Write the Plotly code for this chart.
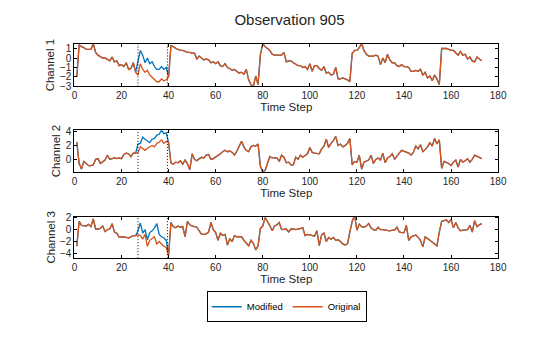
import plotly.graph_objects as go

time_steps = list(range(1, 174))

ch1_original = [
    -2.0, 1.4, 1.2, 1.1, 0.9, 0.9, 0.9, 1.5, 0.6, 0.3,
    0.1, 0.0, 0.0, -0.2, -0.3, 0.1, -0.4, -0.3, -0.8, -0.7,
    -0.9, -0.5, -1.2, -1.1, -0.5, -1.5, -1.8, -0.6, -1.2, -1.5,
    -1.3, -1.8, -2.0, -2.3, -2.5, -2.5, -2.2, -2.4, -2.3, -2.0,
    1.3, 1.2, 1.0, 0.9, 0.8, 0.8, 0.7, 0.6, 0.6, 0.5,
    0.5, -0.1, 0.2, 0.0, -0.2, -0.1, -0.2, -0.5, -0.4, -0.6,
    -0.4, -0.8, -0.9, -0.6, -1.0, -1.1, -1.3, -1.2, -1.4, -1.6,
    -1.5, -1.7, -1.2, -2.3, -2.8, -3.0, -1.9, -2.8, 0.4, 1.5,
    1.2, 1.0, 0.8, 0.4, 0.3, 0.3, 0.3, 0.3, 0.6, -0.4,
    -0.3, -0.3, -0.5, -0.7, -0.8, -0.8, -1.0, -0.9, -1.2, -0.6,
    -1.4, -0.8, -0.8, -1.1, -1.3, -0.9, -1.6, -1.5, -1.8, -1.7,
    -1.0, -2.2, -2.2, -2.1, -2.2, -2.3, -2.5, 0.5, 0.8, 0.8,
    1.1, 1.5, 0.8, 0.4, 0.2, 0.2, 0.2, 0.3, 0.2, -0.7,
    0.0, -0.5, 0.4, -0.2, -0.5, -0.5, -0.8, -0.9, -0.7, -0.9,
    -0.9, -1.0, -1.4, -1.4, -1.3, -1.4, -1.2, -1.8, -1.5, -2.1,
    -1.9, -2.4, -1.8, -2.2, -2.8, 1.0, 1.0, 1.0, 0.9, 0.8,
    0.8, 0.5, 0.3, 0.7, 0.3, 0.4, -0.1, 0.1, -0.3, -0.4,
    0.1, -0.1, -0.3,
]

ch2_original = [
    2.5, -0.6, -1.4, -0.3, -0.6, -0.9, -0.9, -0.8, 0.0, 0.1,
    -0.6, -0.3, -0.1, 0.6, 0.0, 0.1, 0.2, 0.1, 0.2, 0.1,
    0.7, 0.9, 0.8, 0.4, 0.9, 0.9, 1.0, 1.8, 1.6, 1.3,
    1.6, 1.8, 2.0, 1.8, 2.3, 2.5, 2.8, 2.3, 2.6, 2.4,
    -0.5, -0.7, -0.4, -0.5, -0.2, -0.7, -0.1, -0.6, -1.5, 0.8,
    0.0, -0.2, 0.1, 0.3, 0.2, 0.6, 0.7, 0.0, 0.1, 0.3,
    0.5, 0.8, 1.1, 1.3, 1.1, 1.2, 1.0, 0.6, 1.2, 2.0,
    2.6, 1.8, 1.3, 1.1, 1.8, 2.0, 1.9, 2.2, -1.0, -1.8,
    -1.6, -0.6, 0.4, 0.2, 0.2, 0.2, -0.3, 0.6, 0.3, -0.5,
    -0.4, -0.8, -0.8, 0.3, 0.0, 0.6, 0.3, 0.6, 0.8, 1.7,
    1.0, 0.9, 0.9, 0.8, 1.5, 1.9, 2.9, 1.7, 2.3, 2.7,
    3.3, 2.0, 2.2, 1.8, 2.0, 2.3, 3.0, -0.8, -0.3, -0.4,
    0.6, -1.4, -0.4, -0.2, -0.1, 0.6, -0.6, 0.0, 0.2, -0.1,
    0.9, -0.5, 0.2, 0.4, 0.8, 0.0, 0.5, 0.9, 1.3, 1.2,
    1.1, 0.9, 0.6, 1.0, 1.9, 1.5, 2.1, 1.1, 1.4, 1.8,
    2.4, 1.9, 3.0, 2.2, 2.8, -1.3, -0.3, -0.4, -0.6, -0.9,
    -0.4, -0.1, -1.1, 0.0, -0.4, -0.2, 0.1, -0.4, 0.0, 0.6,
    0.4, 0.2, 0.1,
]

ch3_original = [
    -2.8, 1.4, 0.7, 0.6, 0.6, 0.9, 0.5, 1.8, 0.1, 0.1,
    0.2, 0.6, -0.3, 0.0, 0.1, 1.0, -0.4, -0.6, -1.3, -1.2,
    -1.2, -1.3, -1.4, -1.2, -1.0, -1.0, -0.9, -1.0, -1.6, -0.8,
    -2.8, -1.8, -1.5, -1.2, -2.4, -2.0, -2.4, -2.8, -3.0, -4.3,
    1.2, 0.5, 0.3, 0.6, 0.4, 0.5, -1.2, 1.4, 0.8, 0.6,
    0.5, 0.4, -0.2, -0.8, -0.8, -0.7, -0.4, 1.2, 0.0, -0.5,
    -1.8, -0.6, -1.0, -0.8, -2.6, -1.5, -2.0, -1.0, -1.2, -1.2,
    -1.2, -1.8, -2.2, -2.7, -1.8, -2.3, -3.4, -2.7, 0.2, 0.6,
    2.0, 1.4, 0.7, -0.2, 0.6, 0.8, 1.2, 0.0, 0.0, 0.1,
    -0.4, 0.1, 0.1, 0.0, 0.1, 0.2, 0.3, -1.0, -0.8, -0.9,
    -1.0, -1.1, -0.2, -2.7, -0.9, -0.6, -2.0, -1.3, -1.6, -1.3,
    -1.8, -1.7, -2.0, -2.4, -2.6, -2.4, -0.4, 1.4, 2.4, -0.1,
    0.9, 0.5, 0.4, 0.6, 1.0, 0.3, 0.0, -0.1, 0.4, 0.0,
    0.0, -0.1, -0.2, -0.2, -0.1, -0.1, 0.4, -0.4, -0.5, -0.5,
    0.7, -1.8, -1.2, -1.0, -0.9, -1.3, -1.8, -2.9, -1.2, -1.5,
    -1.8, -2.0, -2.3, -2.7, -0.4, 1.4, 1.5, 1.6, 1.2, 1.7,
    0.3, 1.2, 0.3, -0.2, -0.1, -0.1, 0.0, 0.7, -0.4, 1.5,
    0.5, 0.8, 1.0,
]

# modified window (time steps 27..39)
mod_start = 27
ch1_mod_window = [-0.4, 0.8, 0.3, -0.5, 0.0, -0.6, -0.4, -0.9, -1.2, -1.2, -0.9, -1.2, -1.0]
ch2_mod_window = [2.2, 2.3, 3.2, 2.9, 2.7, 2.4, 2.9, 3.0, 3.5, 3.6, 4.2, 3.7, 3.8]
ch3_mod_window = [-0.2, 1.1, -0.6, 0.0, -1.7, -0.5, -0.2, 0.3, 1.0, -0.8, -1.2, -1.4, -1.8]

region_bounds = [27, 39.5]

channel_names = ["Channel 1", "Channel 2", "Channel 3"]
y_ranges = [[-3, 1.5], [-1.8, 4.2], [-4.8, 2.2]]
y_ticks = [[-3, -2, -1, 0, 1], [0, 2, 4], [-4, -2, 0, 2]]
x_ticks = [0, 20, 40, 60, 80, 100, 120, 140, 160, 180]


def modified(orig, window):
    out = list(orig)
    i0 = mod_start - 1
    out[i0:i0 + len(window)] = window
    return out


originals = [ch1_original, ch2_original, ch3_original]
modifieds = [modified(ch1_original, ch1_mod_window),
             modified(ch2_original, ch2_mod_window),
             modified(ch3_original, ch3_mod_window)]

BLUE = "#0072BD"
ORANGE = "#D95319"
FONT = "Liberation Sans, Arial, sans-serif"
TXT = "#262626"

W, H = 560, 337
x_dom = [73 / W, 506 / W]
y_px = [(41, 85), (130, 173), (219, 262)]

fig = go.Figure()
layout_axes = {}
for i in range(3):
    n = "" if i == 0 else str(i + 1)
    xa, ya = "x" + n, "y" + n
    fig.add_trace(go.Scatter(x=time_steps, y=modifieds[i], mode="lines",
                             line=dict(color=BLUE, width=1.3), name="Modified",
                             showlegend=(i == 0), xaxis=xa, yaxis=ya, legendgroup="m"))
    fig.add_trace(go.Scatter(x=time_steps, y=originals[i], mode="lines",
                             line=dict(color=ORANGE, width=1.3), name="Original",
                             showlegend=(i == 0), xaxis=xa, yaxis=ya, legendgroup="o"))
    top, bot = y_px[i]
    common = dict(showline=True, linecolor="#000000", linewidth=1, mirror="ticks",
                  ticks="inside", ticklen=3, tickwidth=1, tickcolor="#000000",
                  showgrid=False, zeroline=False,
                  tickfont=dict(family=FONT, size=10, color=TXT))
    layout_axes["xaxis" + n] = dict(domain=x_dom, anchor=ya, range=[0, 180],
                                    tickvals=x_ticks,
                                    title=dict(text="Time Step", standoff=1,
                                               font=dict(family=FONT, size=11.5, color=TXT)),
                                    **common)
    layout_axes["yaxis" + n] = dict(domain=[1 - bot / H, 1 - top / H], anchor=xa,
                                    range=y_ranges[i], tickvals=y_ticks[i],
                                    title=dict(text=channel_names[i], standoff=2,
                                               font=dict(family=FONT, size=11.5, color=TXT)),
                                    **common)
    for xb in region_bounds:
        fig.add_shape(type="line", xref=xa, yref=ya + " domain", x0=xb, x1=xb, y0=0, y1=1,
                      line=dict(color="#000000", width=1, dash="1px,2px"))

fig.update_layout(
    width=W, height=H,
    margin=dict(l=0, r=0, t=0, b=0),
    paper_bgcolor="white", plot_bgcolor="white",
    font=dict(family=FONT, color=TXT),
    title=dict(text="Observation 905", x=289.5 / W, xanchor="center",
               y=1 - 20 / H, yanchor="middle",
               font=dict(family=FONT, size=15, color=TXT)),
    legend=dict(orientation="h", x=290 / W, xanchor="center", y=1 - 312 / H,
                yanchor="middle", bordercolor="#000000", borderwidth=1,
                font=dict(family=FONT, size=9.5, color="#000000"),
                bgcolor="white", tracegroupgap=0, itemwidth=30),
    showlegend=True,
    **layout_axes,
)

fig.write_html("out.html")
